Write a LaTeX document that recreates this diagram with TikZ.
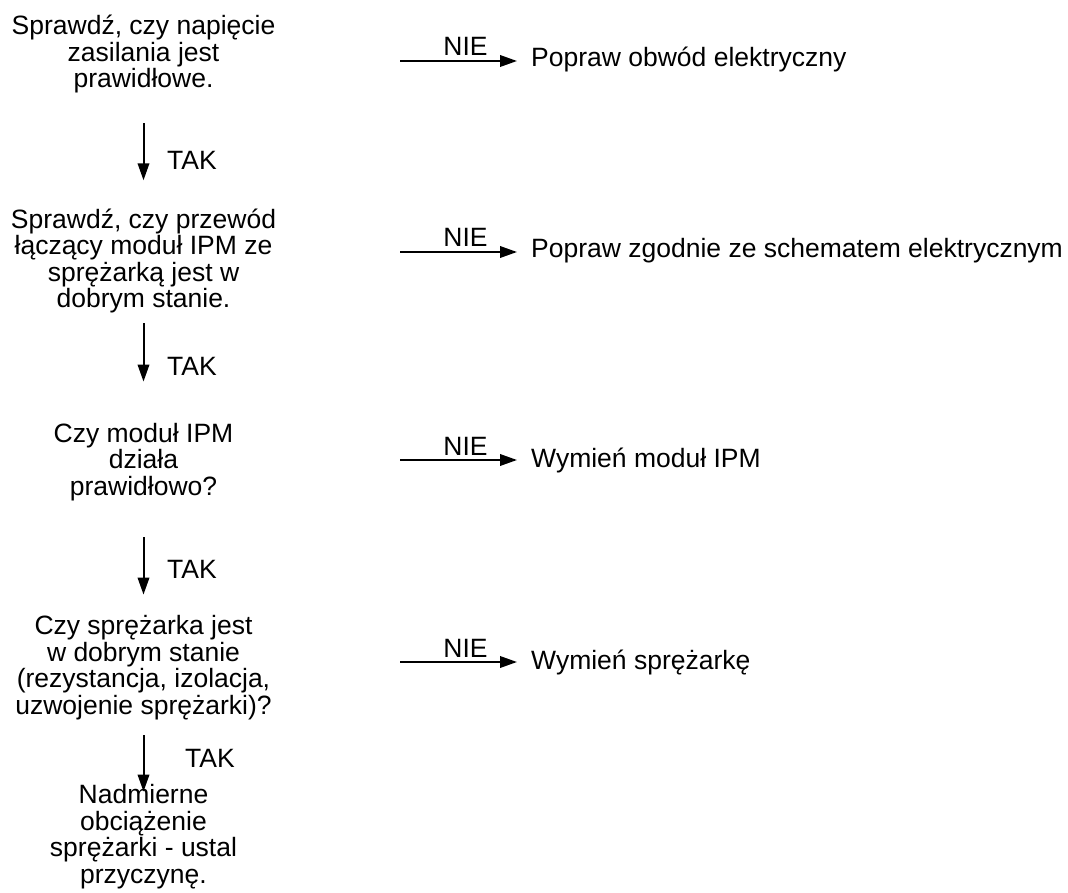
\documentclass[tikz,border=0pt]{standalone}
\usepackage{fontspec}
\setmainfont{Liberation Sans}
\usepackage{tikz}
\usetikzlibrary{arrows.meta,positioning}

\begin{document}
\begin{tikzpicture}[x=1pt, y=-1pt, question/.style={align=center, inner sep=0pt, anchor=base, font=\fontsize{26.5pt}{26.5pt}\selectfont}, fix/.style={anchor=base west, inner sep=0pt, font=\fontsize{26.5pt}{26.5pt}\selectfont}, lbl/.style={inner sep=0pt, font=\fontsize{26.5pt}{26.5pt}\selectfont}, arr/.style={line width=2pt, -{Triangle[length=17pt,width=11.5pt]}}]
    \useasboundingbox (0,0) rectangle (1068,893);

    \node[question] (check1) at (143.5,88) {Sprawdź, czy napięcie\\zasilania jest\\prawidłowe.};
    \node[question] (check2) at (143.5,308) {Sprawdź, czy przewód\\łączący moduł IPM ze\\sprężarką jest w\\dobrym stanie.};
    \node[question] (check3) at (143.5,495) {Czy moduł IPM\\działa\\prawidłowo?};
    \node[question] (check4) at (143.5,714) {Czy sprężarka jest\\w dobrym stanie\\(rezystancja, izolacja,\\uzwojenie sprężarki)?};
    \node[question] (result) at (143.5,883) {Nadmierne\\obciążenie\\sprężarki - ustal\\przyczynę.};

    \node[fix] (fix1) at (531,67) {Popraw obwód elektryczny};
    \node[fix] (fix2) at (531,258) {Popraw zgodnie ze schematem elektrycznym};
    \node[fix] (fix3) at (531,467) {Wymień moduł IPM};
    \node[fix] (fix4) at (531,669) {Wymień sprężarkę};

    \coordinate (no1) at (400,61);
    \coordinate (no2) at (400,252);
    \coordinate (no3) at (400,460);
    \coordinate (no4) at (400,662);

    \node[lbl, anchor=base west] (yes1) at (167,170) {TAK};
    \node[lbl, anchor=base west] (yes2) at (167,375) {TAK};
    \node[lbl, anchor=base west] (yes3) at (167,578) {TAK};
    \node[lbl, anchor=base west] (yes4) at (185,767) {TAK};

    \draw[arr, shorten <=29.5pt, shorten >=28.5pt] (check1.south) -- (check2.north);
    \draw[arr, shorten <=9.5pt, shorten >=41pt] (check2.south) -- (check3.north);
    \draw[arr, shorten <=36.5pt, shorten >=20.5pt] (check3.south) -- (check4.north);
    \draw[arr, shorten <=15.5pt, shorten >=-7.5pt] (check4.south) -- (result.north);

    \draw[arr, shorten >=14pt] (no1) -- (no1 -| fix1.west) node[lbl, midway, above=4pt] (nie1) {NIE};
    \draw[arr, shorten >=14pt] (no2) -- (no2 -| fix2.west) node[lbl, midway, above=4pt] (nie2) {NIE};
    \draw[arr, shorten >=14pt] (no3) -- (no3 -| fix3.west) node[lbl, midway, above=4pt] (nie3) {NIE};
    \draw[arr, shorten >=14pt] (no4) -- (no4 -| fix4.west) node[lbl, midway, above=4pt] (nie4) {NIE};
\end{tikzpicture}
\end{document}
